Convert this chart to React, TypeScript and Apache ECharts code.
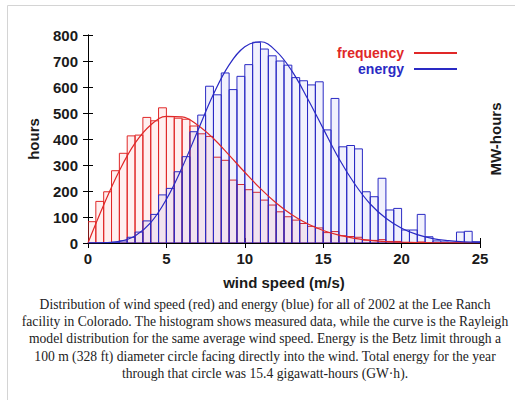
import React, { useEffect, useRef } from 'react';
import * as echarts from 'echarts';

// Histogram bins are 0.5 m/s wide, starting at 0 m/s
const BIN_WIDTH = 0.5;

// Measured hours per bin (red histogram, left axis)
const hoursPerBin = [
  82, 160, 197, 278, 345, 412, 415, 483, 470, 520,
  486, 480, 476, 450, 420, 410, 330, 318, 242, 225,
  205, 195, 165, 146, 120, 101, 88, 75, 64, 58,
  40, 44, 28, 25, 22, 11, 10, 13, 6, 6,
  2, 2, 4, 1, 1, 0, 0, 1, 1, 0,
];

// Measured energy per bin in MW-hours (blue histogram, right axis)
const energyPerBin = [
  0, 0, 1, 3, 8, 22, 42, 85, 110, 185,
  210, 274, 332, 428, 492, 603, 570, 654, 590, 641,
  686, 772, 746, 720, 700, 684, 636, 624, 608, 620,
  435, 556, 370, 375, 362, 197, 178, 249, 127, 133,
  50, 50, 110, 24, 8, 4, 3, 42, 45, 5,
];

// Rayleigh model curves at 1 m/s steps
const curveSpeeds = [0, 1, 2, 3, 4, 5, 6, 7, 8, 9, 10, 11, 12, 13, 14, 15, 16, 17, 18, 19, 20, 21, 22, 23, 24, 25];
const frequencyCurve = [0, 146, 278, 384, 454, 487, 485, 453, 402, 338, 272, 209, 154, 109, 74, 48, 30, 18, 10, 5, 3, 1.5, 0.8, 0.4, 0.2, 0.1];
const energyCurve = [0, 1, 6, 27, 78, 168, 290, 432, 572, 685, 755, 774, 738, 662, 556, 440, 325, 228, 150, 95, 57, 32, 17, 9, 4, 2];

const captionLines = [
  'Distribution of wind speed (red) and energy (blue) for all of 2002 at the Lee Ranch',
  'facility in Colorado. The histogram shows measured data, while the curve is the Rayleigh',
  'model distribution for the same average wind speed. Energy is the Betz limit through a',
  '100 m (328 ft) diameter circle facing directly into the wind. Total energy for the year',
  'through that circle was 15.4 gigawatt-hours (GW\u00B7h).',
];

const RED = '#e02828';
const BLUE = '#2a2ac4';
const SANS = '"Liberation Sans", Arial, sans-serif';
const SERIF = '"Liberation Serif", "Times New Roman", serif';

function histRender(stroke: string, fill: string) {
  return (params: any, api: any) => {
    const x0 = api.value(0);
    const x1 = api.value(1);
    const v = api.value(2);
    const pTop = api.coord([x0, v]);
    const pBot = api.coord([x1, 0]);
    return {
      type: 'rect',
      shape: { x: pTop[0], y: pTop[1], width: pBot[0] - pTop[0], height: pBot[1] - pTop[1] },
      style: { fill, stroke, lineWidth: 1 },
    };
  };
}

export default function App() {
  const ref = useRef<HTMLDivElement>(null);

  useEffect(() => {
    const chart = echarts.init(ref.current as HTMLDivElement, null, { renderer: 'svg' });

    const tickLabel = { fontFamily: SANS, fontWeight: 'bold', fontSize: 15, color: '#1a1a1a' };
    const axisLine = { show: true, lineStyle: { color: '#000', width: 1 } };
    const axisTick = { show: true, inside: true, length: 5, lineStyle: { color: '#000', width: 1 } };

    const option: any = {
      animation: false,
      backgroundColor: '#ffffff',
      textStyle: { fontFamily: SANS },
      grid: { left: 88, top: 35, width: 392, height: 208, containLabel: false },
      legend: {
        orient: 'vertical',
        align: 'right',
        right: 53,
        top: 41,
        itemWidth: 43,
        itemHeight: 2,
        itemGap: 2,
        icon: 'rect',
        selectedMode: false,
        data: [
          { name: 'frequency', textStyle: { color: RED } },
          { name: 'energy', textStyle: { color: BLUE } },
        ],
        textStyle: { fontFamily: SANS, fontWeight: 'bold', fontSize: 14, lineHeight: 14, padding: [0, 5, 0, 0] },
      },
      xAxis: [
        {
          type: 'value',
          position: 'bottom',
          min: 0,
          max: 25,
          interval: 5,
          name: 'wind speed (m/s)',
          nameLocation: 'middle',
          nameGap: 32,
          nameTextStyle: { fontFamily: SANS, fontWeight: 'bold', fontSize: 15, color: '#1a1a1a' },
          axisLine,
          axisTick,
          axisLabel: { ...tickLabel, margin: 8 },
          splitLine: { show: false },
        },
        {
          type: 'value',
          position: 'top',
          min: 0,
          max: 25,
          interval: 5,
          axisLine,
          axisTick,
          axisLabel: { show: false },
          splitLine: { show: false },
        },
      ],
      yAxis: [
        {
          type: 'value',
          position: 'left',
          min: 0,
          max: 800,
          interval: 100,
          name: 'hours',
          nameLocation: 'middle',
          nameGap: 47,
          nameRotate: 90,
          nameTextStyle: { fontFamily: SANS, fontWeight: 'bold', fontSize: 15, color: '#1a1a1a' },
          axisLine,
          axisTick,
          axisLabel: { ...tickLabel, margin: 10 },
          splitLine: { show: false },
        },
        {
          type: 'value',
          position: 'right',
          min: 0,
          max: 800,
          interval: 100,
          name: 'MW-hours',
          nameLocation: 'middle',
          nameGap: 8,
          nameRotate: 90,
          nameTextStyle: { fontFamily: SANS, fontWeight: 'bold', fontSize: 15, color: '#1a1a1a' },
          axisLine,
          axisTick,
          axisLabel: { show: false },
          splitLine: { show: false },
        },
      ],
      series: [
        {
          type: 'custom',
          name: 'frequency-hist',
          xAxisIndex: 0,
          yAxisIndex: 0,
          clip: true,
          renderItem: histRender(RED, 'rgba(255,40,40,0.07)'),
          encode: { x: [0, 1], y: 2 },
          data: hoursPerBin.map((h, i) => [i * BIN_WIDTH, (i + 1) * BIN_WIDTH, h]),
          z: 2,
        },
        {
          type: 'line',
          name: 'frequency',
          xAxisIndex: 0,
          yAxisIndex: 0,
          color: RED,
          smooth: 0.4,
          symbol: 'none',
          lineStyle: { color: RED, width: 1.2 },
          data: curveSpeeds.map((v, i) => [v, frequencyCurve[i]]),
          z: 3,
        },
        {
          type: 'custom',
          name: 'energy-hist',
          xAxisIndex: 0,
          yAxisIndex: 1,
          clip: true,
          renderItem: histRender(BLUE, 'rgba(50,50,230,0.07)'),
          encode: { x: [0, 1], y: 2 },
          data: energyPerBin.map((e, i) => [i * BIN_WIDTH, (i + 1) * BIN_WIDTH, e]),
          z: 2,
        },
        {
          type: 'line',
          name: 'energy',
          xAxisIndex: 0,
          yAxisIndex: 1,
          color: BLUE,
          smooth: 0.4,
          symbol: 'none',
          lineStyle: { color: BLUE, width: 1.2 },
          data: curveSpeeds.map((v, i) => [v, energyCurve[i]]),
          z: 3,
        },
      ],
      graphic: [
        { type: 'line', shape: { x1: 7.5, y1: 5.5, x2: 515, y2: 5.5 }, style: { stroke: '#d4d4d4', lineWidth: 1 } },
        { type: 'line', shape: { x1: 7.5, y1: 5.5, x2: 7.5, y2: 400 }, style: { stroke: '#d4d4d4', lineWidth: 1 } },
        ...captionLines.map((line, i) => ({
          type: 'text',
          x: 265,
          y: 304 + i * 17.4,
          style: {
            text: line,
            font: `13.6px ${SERIF}`,
            fill: '#222',
            align: 'center',
            verticalAlign: 'middle',
          },
        })),
      ],
    };

    chart.setOption(option);
    return () => chart.dispose();
  }, []);

  return (
    <div
      ref={ref}
      style={{ position: 'absolute', left: 0, top: 0, width: 515, height: 400, background: '#fff' }}
    />
  );
}
